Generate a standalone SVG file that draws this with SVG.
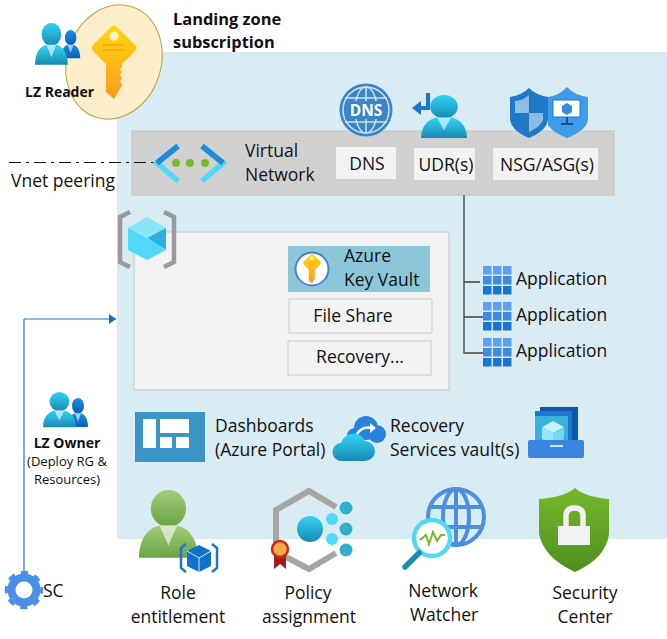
<svg xmlns="http://www.w3.org/2000/svg" width="667" height="639" viewBox="0 0 667 639">
<style>
text{font-family:"Open Sans","Noto Sans","Liberation Sans",sans-serif;fill:#111;font-size:17.500px}
.b{font-weight:700}
.h{font-size:16.400px}
.s{font-size:14px}
.x{font-size:13px}
.box{fill:#f2f2f2;stroke:#c9c9c9;stroke-width:1}
.lbl{fill:#f2f2f2}
.m{text-anchor:middle}
.ln{fill:none;stroke:#404040;stroke-width:1.300}
.t1{fill:#5ea0ef}.t2{fill:#3f8be4}.t3{fill:#1b75d6}
.collar{fill:#fff;opacity:.6}
</style>
<defs>
<linearGradient id="cy" x1="0" y1="0" x2="0" y2="1"><stop offset="0" stop-color="#32d4f5"/><stop offset="1" stop-color="#198ab3"/></linearGradient>
<linearGradient id="bl" x1="0" y1="0" x2="0" y2="1"><stop offset="0" stop-color="#1b8fe0"/><stop offset="1" stop-color="#0a5fb8"/></linearGradient>
<linearGradient id="gr" x1="0" y1="0" x2="0" y2="1"><stop offset="0" stop-color="#a3cc7a"/><stop offset="1" stop-color="#6aa544"/></linearGradient>
<linearGradient id="ky" x1="0" y1="0" x2="0" y2="1"><stop offset="0" stop-color="#ffd70f"/><stop offset="1" stop-color="#ff9a1f"/></linearGradient>
<linearGradient id="sh" x1="0" y1="0" x2="0" y2="1"><stop offset="0" stop-color="#76b82a"/><stop offset="1" stop-color="#4f8f20"/></linearGradient>
<marker id="arr" markerUnits="userSpaceOnUse" markerWidth="8" markerHeight="11" refX="7" refY="5" orient="auto"><path d="M0 0L7 5L0 10z" fill="#1b6fc0"/></marker>
<g id="person"><circle cx="20" cy="12" r="12"/><path d="M0 44C0 30 8 24 14 23H26C32 24 40 30 40 44Z"/><path class="collar" d="M14 23L20 36L26 23Z"/></g>
<g id="apps">
<rect class="t1" x="0" y="0" width="8.500" height="8.500"/><rect class="t1" x="10" y="0" width="8.500" height="8.500"/><rect class="t1" x="20" y="0" width="8.500" height="8.500"/>
<rect class="t2" x="0" y="10" width="8.500" height="8.500"/><rect class="t2" x="10" y="10" width="8.500" height="8.500"/><rect class="t2" x="20" y="10" width="8.500" height="8.500"/>
<rect class="t3" x="0" y="20" width="8.500" height="8.500"/><rect class="t3" x="10" y="20" width="8.500" height="8.500"/><rect class="t3" x="20" y="20" width="8.500" height="8.500"/>
</g>
<g id="keyg"><path d="M-3-21Q0-24 3-21L21-3Q24 0 21 3L8 16V19L6 21L8 24L6 27L8 30L6 33L8 37L0 51L-8 44V16L-21 3Q-24 0-21-3Z" fill="url(#ky)"/><circle cy="-12" r="4.500" fill="#fff3c4"/><path d="M-11-3H11M-11 2H11" stroke="#f5a623" stroke-width="1.600"/></g>
</defs>
<rect width="667" height="639" fill="#fff"/>
<rect id="subscription-area" x="117" y="52" width="550" height="487" fill="#d9ebf3"/>
<rect id="vnet-bar-bg" x="132" y="131" width="482" height="64" fill="#d1d1d1" stroke="#c4c4c4"/>
<g id="connectors">
<path d="M9 162.500H155" fill="none" stroke="#111" stroke-width="1" stroke-dasharray="12 5 3 5"/>
<path class="ln" d="M464 195V353H483M464 282H480M464 317H483"/>
<path d="M24 572V319" fill="none" stroke="#5a98d8" stroke-width="1.600"/>
<path d="M24 319H116" fill="none" stroke="#2277c4" stroke-width="1.100" marker-end="url(#arr)"/>
</g>
<g id="vnet">
<path d="M178 146L157 163L178 181" fill="none" stroke="#50d8f8" stroke-width="5.500"/><path d="M178 146L157 163" stroke="#1f8ad8" stroke-width="5.500" fill="none"/>
<path d="M202 146L223 163L202 181" fill="none" stroke="#50d8f8" stroke-width="5.500"/><path d="M202 146L223 163" stroke="#1f8ad8" stroke-width="5.500" fill="none"/>
<circle cx="176" cy="163" r="4" fill="#7cb82f"/><circle cx="190" cy="163" r="4" fill="#7cb82f"/><circle cx="205" cy="163" r="4" fill="#7cb82f"/>
<text x="245" y="157">Virtual</text><text x="245" y="181">Network</text>
</g>
<g id="dns"><rect class="lbl" x="336" y="147" width="60" height="32"/><text class="m" x="367" y="170">DNS</text>
<circle cx="366" cy="110" r="26.500" fill="#3a85c6"/>
<g fill="none" stroke="#cfe2f2" stroke-width="1.500"><circle cx="366" cy="110" r="23"/><ellipse cx="366" cy="110" rx="11" ry="23"/><path d="M345 98H387M345 122H387M366 87V133"/></g>
<rect x="345" y="101" width="42" height="18" fill="#3a85c6"/>
<text class="m b" x="366" y="116" style="font-size:15.500px;fill:#fff">DNS</text></g>
<g id="udr"><rect class="lbl" x="414" y="148" width="61" height="32"/><text class="m" x="446" y="171">UDR(s)</text>
<use href="#person" transform="translate(421,95) scale(1.150,.980)" fill="url(#cy)"/>
<path d="M428 93V108H418" fill="none" stroke="#1c75c8" stroke-width="4"/><path d="M412 108L421 101V115Z" fill="#1c75c8"/></g>
<g id="nsg"><rect class="lbl" x="493" y="148" width="105" height="32"/><text class="m" x="547" y="171">NSG/ASG(s)</text>
<path d="M510 97Q522 95 529 88Q536 95 548 97V118Q548 130 529 138Q510 130 510 118Z" fill="#2079c7"/>
<path d="M515 101Q524 100 529 95V113H515ZM529 113H543V120Q540 127 529 132Z" fill="#8cbde5"/>
<path d="M548 97Q560 95 567 87Q574 95 588 97V118Q588 130 567 138Q552 132 548 125Z" fill="#3f9ceb"/>
<rect x="553" y="100" width="27" height="17" fill="#fff" stroke="#1b75d6" stroke-width="1"/><path d="M567 103L572 106V112L567 115L562 112V106Z" fill="#2f8ed8"/><path d="M567 117V123M561 124H573" stroke="#14508c" stroke-width="2"/></g>
<g id="resource-group">
<rect x="134" y="232" width="315" height="158" fill="#f2f2f2" stroke="#c6c6c6"/>
<path d="M130 212L120 217V262L130 267" fill="none" stroke="#9a9a9a" stroke-width="4.500"/><path d="M164 212L174 217V262L164 267" fill="none" stroke="#9a9a9a" stroke-width="4.500"/>
<path d="M147 217L166 228L147 238L128 228Z" fill="#8be6fb"/><path d="M128 228L147 238V260L128 250Z" fill="#50d8f8"/><path d="M166 228L147 238L166 250Z" fill="#2fb0d8"/><path d="M147 238L166 250L147 260Z" fill="#50d8f8"/>
</g>
<g id="key-vault"><rect x="288" y="246" width="142" height="46" fill="#8cc7d9"/>
<circle cx="312" cy="269" r="16.500" fill="#fff" stroke="#4c7fd0" stroke-width="2"/><use href="#keyg" transform="translate(312,263) scale(.4)"/>
<text x="344" y="262">Azure</text><text x="344" y="286">Key Vault</text></g>
<g id="file-share"><rect class="box" x="289" y="299" width="143" height="34"/><text class="m" x="353" y="322">File Share</text></g>
<g id="recovery"><rect class="box" x="288" y="341" width="143" height="34"/><text class="m" x="360" y="363">Recovery...</text></g>
<g id="app1"><use href="#apps" x="483" y="266"/><text x="516" y="285">Application</text></g>
<g id="app2"><use href="#apps" x="483" y="302"/><text x="516" y="321">Application</text></g>
<g id="app3"><use href="#apps" x="483" y="338"/><text x="516" y="357">Application</text></g>
<g id="lz-reader">
<ellipse cx="114" cy="62" rx="47" ry="58" transform="rotate(18 114 62)" fill="#fdedc8" stroke="#b9a14f"/>
<use href="#keyg" transform="translate(114,48)"/>
<use href="#person" transform="translate(61,30) scale(.48,.64)" fill="url(#bl)"/>
<use href="#person" transform="translate(35,23) scale(.82,.950)" fill="url(#cy)"/>
<text class="b s" x="25" y="97">LZ Reader</text>
</g>
<g id="title"><text class="b h" x="173" y="25">Landing zone</text><text class="b h" x="173" y="48">subscription</text></g>
<text x="11" y="187">Vnet peering</text>
<g id="lz-owner">
<use href="#person" transform="translate(68,398) scale(.5,.66)" fill="url(#bl)"/>
<use href="#person" transform="translate(43,392) scale(.82,.800)" fill="url(#cy)"/>
<text class="b m s" x="67" y="448">LZ Owner</text>
<text class="m x" x="67" y="466">(Deploy RG &amp;</text><text class="m x" x="67" y="484">Resources)</text>
</g>
<g id="sc"><circle cx="24" cy="590" r="12.500" fill="none" stroke="#4a8fe8" stroke-width="8"/><circle cx="24" cy="590" r="17" fill="none" stroke="#4a8fe8" stroke-width="4.500" stroke-dasharray="7 6.350" stroke-dashoffset="3.500"/><text x="43" y="597">SC</text></g>
<g id="dashboards"><rect x="135" y="412" width="70" height="50" fill="#3a94c6"/>
<rect x="143" y="419" width="13" height="29" fill="#fff"/><rect x="160" y="419" width="29" height="14" fill="#fff"/><rect x="160" y="437" width="12" height="11" fill="#fff"/><rect x="176" y="437" width="13" height="11" fill="#fff"/>
<text x="215" y="432">Dashboards</text><text x="215" y="456">(Azure Portal)</text></g>
<g id="recovery-services">
<g fill="#2a82dc"><circle cx="366" cy="428" r="12"/><circle cx="377" cy="434" r="9"/><circle cx="355" cy="436" r="8"/></g>
<g fill="url(#cy)"><path d="M342 461A9 9 0 0 1 341 443A13 13 0 0 1 365 441A10 10 0 0 1 365 461Z"/></g>
<path d="M357 434Q362 426 372 428" fill="none" stroke="#fff" stroke-width="2.500"/><path d="M370 423L376 428L370 433Z" fill="#fff"/>
<text x="390" y="432">Recovery</text><text x="390" y="456">Services vault(s)</text>
<rect x="540" y="407" width="38" height="38" fill="#0f57a8"/><rect x="535" y="411" width="37" height="34" fill="#1a78d0"/><rect x="535" y="416" width="33" height="28" fill="#3bb0d8"/>
<path d="M553 421L564 427L553 433L542 427Z" fill="#c4f1fc"/><path d="M542 427L553 433V445L542 439Z" fill="#9be6f8"/><path d="M564 427L553 433V445L564 439Z" fill="#74d8f0"/>
<rect x="528" y="440" width="56" height="18" rx="2" fill="#3a86e0"/><path d="M550 446H563" stroke="#fff" stroke-width="1.500"/>
</g>
<g id="role"><use href="#person" transform="translate(139,490) scale(1.470,1.540)" fill="url(#gr)"/>
<path d="M186 544L181 548V568L186 572M212 544L217 548V568L212 572" fill="none" stroke="#1b75d6" stroke-width="2.500"/><path d="M199 545L211 551V566L199 572L187 566V551Z" fill="#1171cc"/><path d="M187 551L199 558L211 551M199 558V572" fill="none" stroke="#cfe5f8"/>
<text class="m" x="178" y="599">Role</text><text class="m" x="178" y="623">entitlement</text></g>
<g id="policy"><path d="M336 507L309 491L276 510V552L309 569L336 553" fill="none" stroke="#a5a5a5" stroke-width="6"/>
<circle cx="310" cy="529" r="13" fill="url(#cy)"/><circle cx="332" cy="519" r="6" fill="#50d8f8"/><circle cx="332" cy="539" r="6" fill="#50d8f8"/><circle cx="346" cy="508" r="6.500" fill="#2fb0d0"/><circle cx="346" cy="529" r="6.500" fill="#2fb0d0"/><circle cx="346" cy="550" r="6.500" fill="#2fb0d0"/>
<path d="M274 552V569L280 564L286 569V552Z" fill="#a81c1c"/><circle cx="280" cy="549" r="8" fill="#f5a844" stroke="#c62a1c" stroke-width="2.500"/>
<text class="m" x="308" y="599">Policy</text><text class="m" x="309" y="623">assignment</text></g>
<g id="watcher">
<g fill="none" stroke="#4c8fe0" stroke-width="4"><circle cx="456" cy="517" r="28"/><ellipse cx="456" cy="517" rx="13" ry="28"/><path d="M456 489V545M430 507H482M430 527H482"/></g>
<circle cx="432" cy="538" r="18" fill="#fff" stroke="#50d8f8" stroke-width="4.500"/><path d="M420 540L426 535L429 544L433 532L437 541L441 535H445" fill="none" stroke="#76b82a" stroke-width="2"/>
<path d="M419 553L405 567" stroke="#1f8ab0" stroke-width="5.500" stroke-linecap="round"/>
<text class="m" x="443" y="597">Network</text><text class="m" x="444" y="621">Watcher</text></g>
<g id="security"><path d="M575 488Q585 497 609 499V534Q606 558 575 572Q544 558 539 534V499Q565 497 575 488Z" fill="url(#sh)"/>
<rect x="558" y="526" width="32" height="19" fill="#f2f2f2"/><path d="M566 526V516Q566 508 574.500 508Q583 508 583 516V526" fill="none" stroke="#f2f2f2" stroke-width="5.500"/>
<text class="m" x="585" y="599">Security</text><text class="m" x="585" y="623">Center</text></g>
</svg>
